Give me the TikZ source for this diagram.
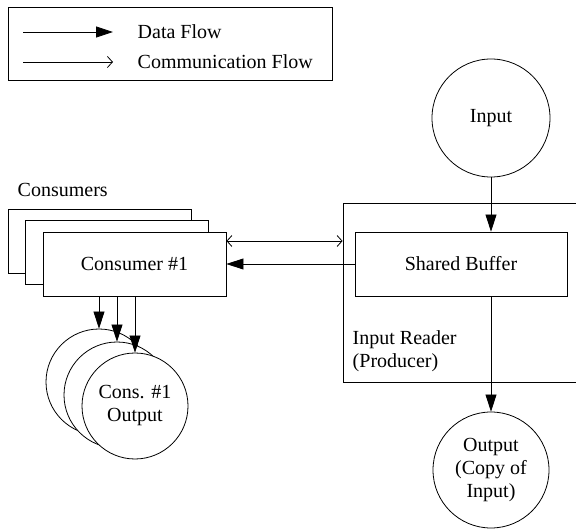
\documentclass[tikz,border=0pt]{standalone}
\usepackage{fontspec}
\setmainfont{Liberation Serif}
\usetikzlibrary{arrows.meta,positioning}

\begin{document}
\begin{tikzpicture}[x=1pt,y=-1pt,line width=0.8pt,
    font=\fontsize{20}{23}\selectfont,
    box/.style={draw,fill=white,minimum width=183pt,minimum height=64pt},
    blob/.style={draw,fill=white,circle,inner sep=0pt,minimum size=106pt},
    barb/.tip={Straight Barb[length=5pt,width=11pt]},
    data/.style={-{Triangle[length=17pt,width=11pt]}},
    comm/.style={-barb}]
      \useasboundingbox (0,0) rectangle (576,529);
      % legend
      \draw (8,7) rectangle (332,80);
      \coordinate (d0) at (23,32);
      \coordinate (d1) at (113,32);
      \coordinate (c0) at (23,62);
      \coordinate (c1) at (113,62);
      \node [anchor=west] (dtxt) at (134,32) {Data Flow};
      \node [anchor=west] (ctxt) at (134,62) {Communication Flow};
      % consumers
      \node [anchor=west] (cons) at (14,190) {Consumers};
      \node [box] (cons3) at (99.5,241.5) {};
      \node [box] (cons2) at (117,252.5) {};
      \node [box] (cons1) at (134.5,264) {Consumer \#1};
      % consumer outputs
      \node [blob] (outA) at (99,382) {};
      \node [blob] (outB) at (117,395) {};
      \node [blob,align=center] (outC) at (135,406) {Cons. \#1\\Output};
      % producer
      \node [draw,minimum width=257pt,minimum height=179pt] (prod) at (471.5,292.5) {};
      \node [draw,minimum width=212pt,minimum height=64pt] (buf) at (461,264) {Shared Buffer};
      \node [anchor=west,align=left] (prodtxt) at (349,351) {Input Reader\\(Producer)};
      \node [draw,circle,minimum size=118pt] (in) at (491,118) {Input};
      \node [draw,circle,inner sep=0pt,minimum size=116pt,align=center] (out) at (491,470) {Output\\(Copy of\\Input)};
      \coordinate (commL) at ([yshift=23pt]cons1.east);

      % links
      \draw [data] (d0) -- (d1);
      \draw [comm] (c0) -- (c1);
      \draw [data] (in.south) -- (in.south |- buf.north);
      \draw [data] (buf.south -| out.north) -- (out.north);
      \draw [data] (buf.west) -- (cons1.east);
      \draw [barb-barb] (commL) -- (commL -| prod.west);
      \draw [data] (cons1.south -| outA.north) -- (outA.north);
      \draw [data] (cons1.south -| outB.north) -- (outB.north);
      \draw [data] (cons1.south -| outC.north) -- (outC.north);
    \end{tikzpicture}
\end{document}
